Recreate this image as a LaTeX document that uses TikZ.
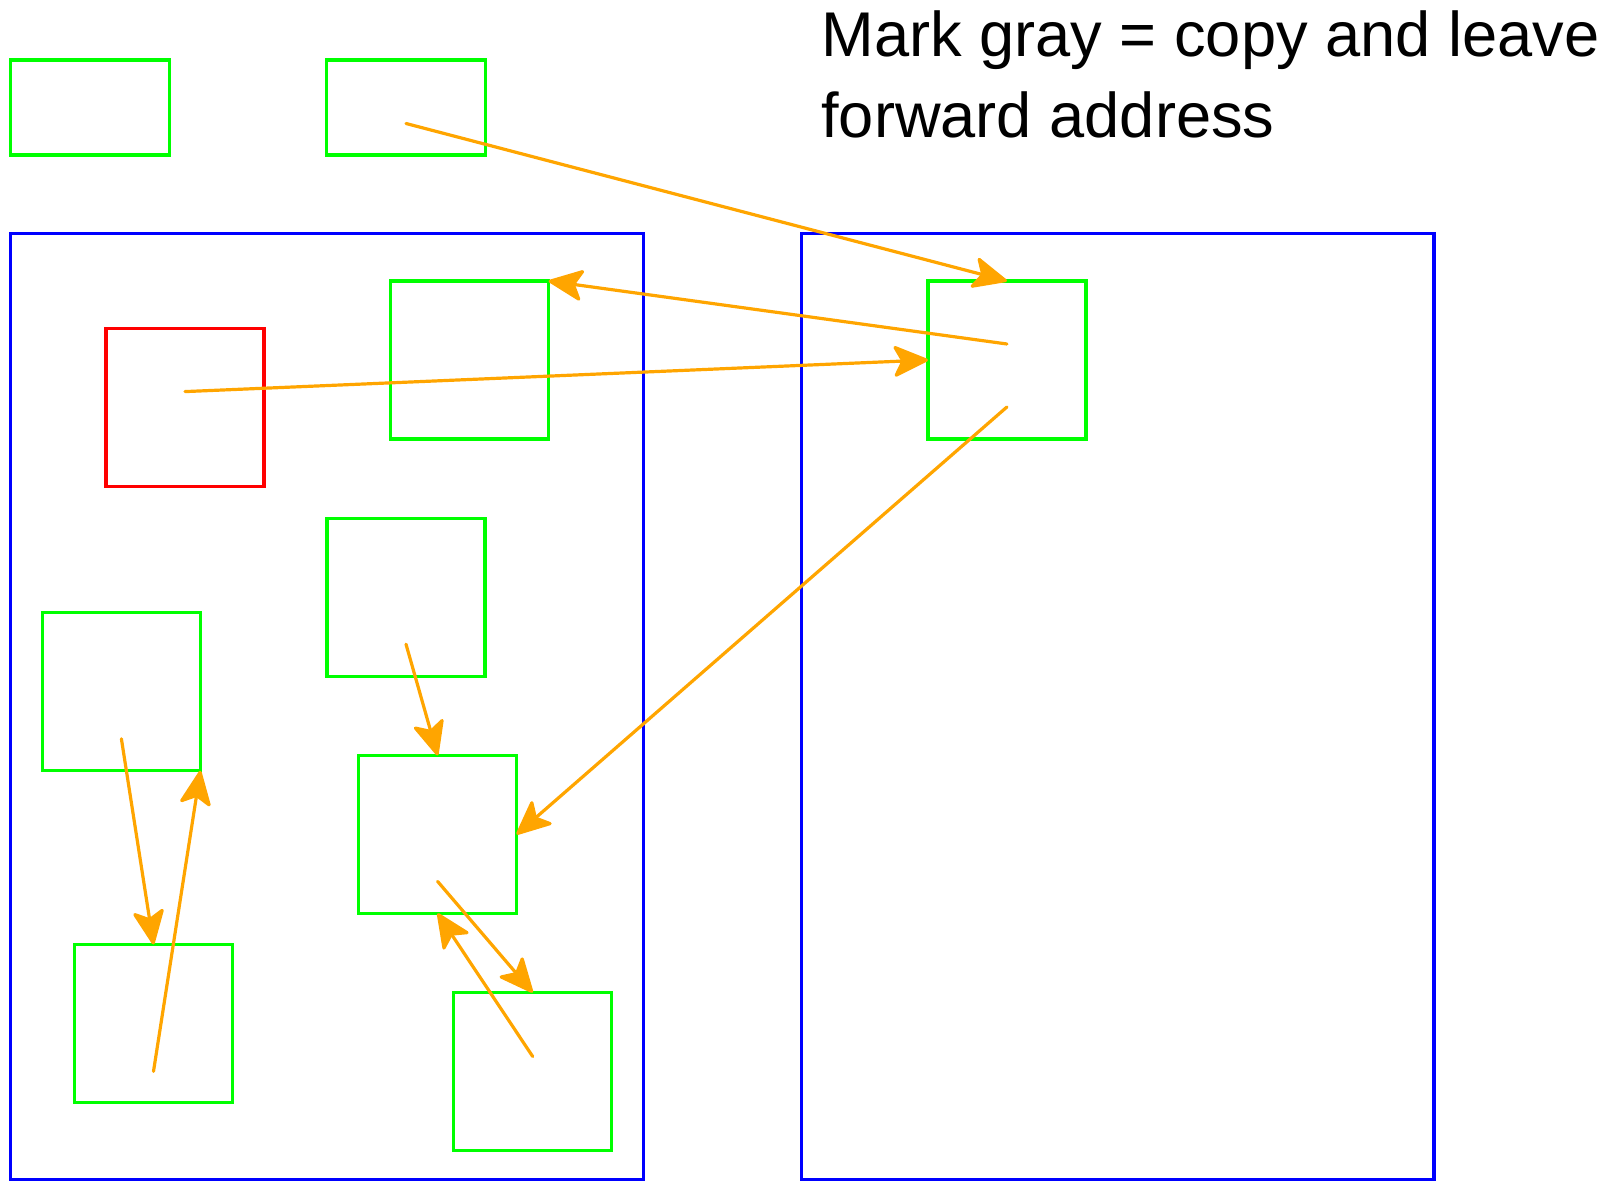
\documentclass[tikz,border=0pt]{standalone}
\usepackage{fontspec}
\setmainfont{Liberation Sans}
\usetikzlibrary{arrows.meta,calc}
\definecolor{gboxc}{RGB}{0,255,0}
\definecolor{bboxc}{RGB}{0,0,255}
\definecolor{rboxc}{RGB}{255,0,0}
\definecolor{arrc}{RGB}{255,165,0}
\begin{document}
\begin{tikzpicture}[x=0.5pt,y=-0.5pt,
  gbox/.style={draw=gboxc,line width=1.6pt,minimum width=79pt,minimum height=79pt,inner sep=0pt,outer sep=0pt},
  tbox/.style={gbox,minimum width=79.5pt,minimum height=47.5pt},
  rbox/.style={gbox,draw=rboxc},
  bbox/.style={draw=bboxc,line width=1.6pt,inner sep=0pt,outer sep=0pt,minimum height=473.25pt},
  ptr/.style={draw=arrc,line width=1.6pt,line cap=round,-{Stealth[length=19pt,width=17pt,inset=4.5pt,round]}}]
\useasboundingbox (0,0) rectangle (1620,1181);
% heaps
\node[bbox,minimum width=316.7pt] (L) at (327,706.8) {};
\node[bbox,minimum width=316.1pt] (R) at (1117.9,706.8) {};
% roots
\node[tbox] (T1) at (89.9,107.5) {};
\node[tbox] (T2) at (406,107.5) {};
% objects
\node[rbox] (red) at (185,407.6) {};
\node[gbox] (A) at (469.6,360) {};
\node[gbox] (B) at (1006.9,360) {};
\node[gbox] (C) at (406,597.2) {};
\node[gbox] (D) at (121.4,691.8) {};
\node[gbox] (E) at (437.6,834.4) {};
\node[gbox] (F) at (153.5,1023.4) {};
\node[gbox] (G) at (532.7,1071.5) {};
% label
\node[anchor=base west,align=left,inner sep=0pt,font=\fontsize{31.6pt}{40.3pt}\selectfont] (lbl) at (821,137.6) {Mark gray = copy and leave\\forward address};
% pointers
\draw[ptr] ($(T2.center)+(0,16)$) -- (B.north);
\draw[ptr] ($(B.center)+(0,-16)$) -- (A.north east);
\draw[ptr] ($(red.center)+(0,-16)$) -- (B.west);
\draw[ptr] ($(B.center)+(0,47)$) -- (E.east);
\draw[ptr] ($(C.center)+(0,47)$) -- (E.north);
\draw[ptr] ($(D.center)+(0,47)$) -- (F.north);
\draw[ptr] ($(F.center)+(0,48)$) -- (D.south east);
\draw[ptr] ($(E.center)+(0,47)$) -- (G.north);
\draw[ptr] ($(G.center)+(0,-15)$) -- (E.south);
\end{tikzpicture}
\end{document}
